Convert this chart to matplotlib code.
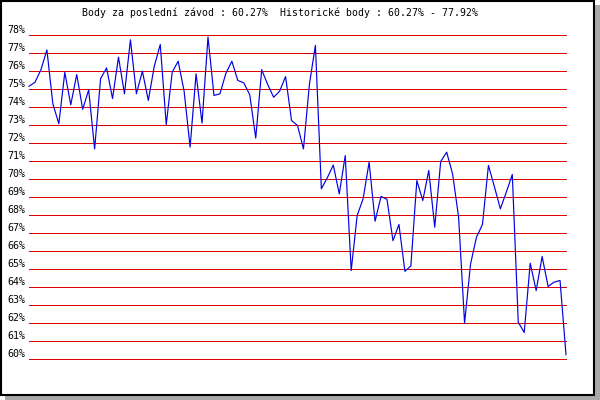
import matplotlib
matplotlib.use("Agg")
import matplotlib.pyplot as plt
from matplotlib.patches import Rectangle

# Data
values = [75.18, 75.4, 76.1, 77.2, 74.2, 73.1, 75.95, 74.15, 75.83, 73.9,
          74.98, 71.7, 75.6, 76.2, 74.5, 76.8, 74.76, 77.76, 74.76, 76.02,
          74.39, 76.3, 77.5, 73.04, 75.96, 76.57, 74.9, 71.8, 75.87, 73.13,
          77.92, 74.67, 74.76, 75.9, 76.57, 75.5, 75.37, 74.7, 72.3, 76.1,
          75.28, 74.57, 74.9, 75.72, 73.28, 73.0, 71.7, 75.3, 77.45, 69.48,
          70.1, 70.8, 69.2, 71.33, 64.94, 68.0, 68.93, 70.96, 67.68, 69.06,
          68.9, 66.6, 67.5, 64.9, 65.2, 69.94, 68.83, 70.5, 67.35, 71.0,
          71.52, 70.3, 67.9, 62.02, 65.3, 66.8, 67.5, 70.78, 69.6, 68.37,
          69.3, 70.28, 62.07, 61.5, 65.35, 63.83, 65.72, 64.06, 64.3, 64.39,
          60.27]
ytick_values = list(range(60, 79))
ytick_labels = [f"{v}%" for v in ytick_values]
title = "Body za poslední závod : 60.27%  Historické body : 60.27% - 77.92%"

W, H = 600, 400
fig = plt.figure(figsize=(6, 4), dpi=100, facecolor="white")

# shadow and framed box (behind the axes)
fig.patches.append(Rectangle((5 / W, 0), 1 - 5 / W, (H - 5) / H,
                             transform=fig.transFigure, facecolor="#a9a9a9",
                             edgecolor="none", zorder=-3))
fig.patches.append(Rectangle((1 / W, 5 / H), 593 / W, 394 / H,
                             transform=fig.transFigure, facecolor="white",
                             edgecolor="black", linewidth=1.5, zorder=-2))

ax = fig.add_axes([29 / W, (H - 359.5) / H, 537 / W, 324 / H])
ax.set_zorder(2)
ax.set_facecolor("none")
for s in ax.spines.values():
    s.set_visible(False)

n = len(values)
xs = list(range(n))
ax.set_xlim(0, n - 1)
ax.set_ylim(60, 78)

for v in ytick_values:
    ax.axhline(v, color="#e00000", linewidth=0.72, zorder=1, snap=True,
               clip_on=False)
ax.plot(xs, values, color="#0000e0", linewidth=0.85, zorder=2, clip_on=False)

ax.set_xticks([])
ax.set_yticks(ytick_values)
ax.set_yticklabels(ytick_labels, family="DejaVu Sans Mono", fontsize=7.2)
ax.tick_params(axis="y", length=0, pad=2.5)
for lbl in ax.get_yticklabels():
    lbl.set_va("bottom")

fig.text(82 / W, 1 - 13 / H, title, family="DejaVu Sans Mono", fontsize=7.15,
         ha="left", va="center", zorder=3)

fig.savefig("out.png", dpi=100, facecolor="white")
